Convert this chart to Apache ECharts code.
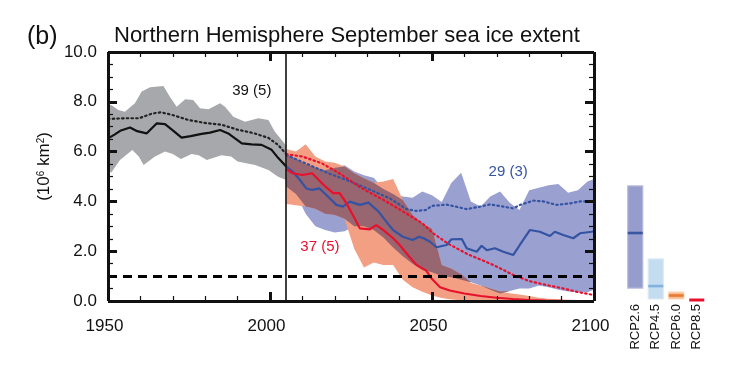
<!DOCTYPE html>
<html><head><meta charset="utf-8">
<script src="https://cdn.jsdelivr.net/npm/echarts@6/dist/echarts.min.js"></script>
<style>html,body{margin:0;padding:0;background:#fff}#c{width:740px;height:376px}</style>
</head><body><div id="c"></div>
<script>
// ---------- data ----------
const panelLabel = '(b)';
const titleText = 'Northern Hemisphere September sea ice extent';
const xRange = [1950, 2100];
const yRange = [0, 10];
const xMajorTicks = [1950, 2000, 2050, 2100];
const xMinorTicks = [1960, 1970, 1980, 1990, 2010, 2020, 2030, 2040, 2060, 2070, 2080, 2090];
const yMajorTicks = [0, 2, 4, 6, 8, 10];
const yMinorTicks = [0.5, 1, 1.5, 2.5, 3, 3.5, 4.5, 5, 5.5, 6.5, 7, 7.5, 8.5, 9, 9.5];
const historicalEnd = 2005;
const thresholdValue = 1.0;

const histMean = [[1950,6.53],[1952,6.68],[1954,6.85],[1956.8,6.97],[1959,6.82],[1961.9,6.73],[1965,7.13],[1967.6,7.1],[1970,6.85],[1972.7,6.56],[1975.5,6.62],[1978.9,6.71],[1981.5,6.76],[1984.6,6.87],[1987.1,6.73],[1991.3,6.33],[1994.3,6.29],[1997.4,6.27],[2000.5,6.07],[2002.5,5.75],[2005,5.4]];
const histAll = [[1950,7.31],[1955.5,7.34],[1959.6,7.34],[1963.7,7.53],[1966.3,7.58],[1969.9,7.47],[1974.8,7.27],[1980,7.15],[1985,7.08],[1990,6.88],[1995,6.74],[1999.5,6.55],[2002.5,6.27],[2005,5.9]];
const histMax = [[1950,7.85],[1951,7.87],[1953.2,7.67],[1955.2,7.6],[1958.3,7.94],[1960.4,8.41],[1963,8.58],[1967.1,8.63],[1969.1,8.2],[1971.2,7.8],[1973.8,8.1],[1976.3,8.07],[1978.4,7.74],[1981,7.7],[1984.6,7.94],[1986.1,7.8],[1988.7,7.4],[1992.3,7.2],[1996.4,7.34],[1999.5,7.27],[2001.5,6.8],[2005,6.25]];
const histMin = [[1950,5.3],[1951,5.15],[1953.7,5.66],[1957.5,6.06],[1959.5,5.8],[1961,5.46],[1964.5,5.8],[1967.6,6.0],[1970,5.9],[1972.5,5.7],[1975.8,5.9],[1978,5.85],[1980.5,5.66],[1985,5.85],[1988,5.8],[1990,5.6],[1995.4,5.46],[1999.5,5.26],[2002.5,4.99],[2005,4.86]];

const futureYears = [2005,2008,2011,2014,2017,2020,2023,2026,2029,2032,2035,2038,2041,2044,2047,2050,2053,2056,2059,2062,2065,2068,2071,2074,2077,2080,2083,2086,2089,2092,2095,2098,2100];
const rcp26Max = [5.9,5.7,5.5,5.35,5.25,5.35,5.45,5.2,5.05,4.95,4.5,4.3,4.2,4.15,4.4,4.25,3.98,4.75,5.15,4.0,3.8,4.2,4.4,3.95,3.65,4.45,4.55,4.65,4.7,4.35,4.45,4.8,4.9];
const rcp26Min = [4.6,4.3,3.5,3.0,2.85,2.75,2.8,3.0,3.0,2.85,2.55,2.15,1.8,1.5,1.25,1.15,1.0,0.95,0.85,0.75,0.62,0.45,0.3,0.4,0.5,0.5,0.62,0.55,0.45,0.38,0.35,0.35,0.45];
const rcp85Max = [6.1,6.0,6.3,5.8,5.6,5.55,5.4,5.13,4.93,4.75,4.8,4.9,4.06,3.45,3.12,2.9,1.45,1.3,1.07,0.72,0.62,0.5,0.38,0.31,0.26,0.2,0.13,0.09,0.07,0.05,0.04,0.03,0.03];
const rcp85Min = [3.9,3.85,3.8,3.7,3.5,3.45,3.3,2.1,1.35,1.55,1.45,1.45,0.85,0.55,0.37,0.22,0.12,0.06,0.03,0,0,0,0,0,0,0,0,0,0,0,0,0,0];

const rcp26Mean = [[2005,5.4],[2007,5.2],[2009,4.9],[2011.2,4.52],[2013,4.46],[2015.3,4.52],[2017.4,4.26],[2020.5,3.86],[2022.5,3.79],[2024.6,3.99],[2027.7,3.86],[2030.4,3.95],[2033.5,3.59],[2036.9,3.02],[2038,2.85],[2041,2.58],[2044,2.45],[2046,2.58],[2047.4,2.52],[2049.4,2.38],[2051.4,2.16],[2054.5,2.25],[2056,2.48],[2059.2,2.49],[2060.7,2.12],[2063.8,1.98],[2065.3,2.22],[2066.9,2.04],[2069.4,2.12],[2072,1.98],[2075.1,1.85],[2077.1,2.25],[2080.2,2.85],[2083.3,2.78],[2086.4,2.61],[2087.9,2.78],[2090.5,2.65],[2093.6,2.52],[2095.7,2.72],[2099.3,2.78],[2100,2.8]];
const rcp26All = [[2005,5.86],[2011,5.53],[2018,5.13],[2025,4.79],[2031,4.46],[2037,4.12],[2042,3.7],[2045,3.62],[2048,3.65],[2050,3.82],[2054.5,3.87],[2057,3.8],[2060.7,3.69],[2064.8,3.79],[2067.9,3.88],[2072,3.79],[2075.1,3.72],[2077.2,3.86],[2081.3,4.03],[2084.4,4.0],[2088.5,3.86],[2092.6,3.92],[2095.7,4.0],[2100,4.0]];
const rcp85Mean = [[2005,5.3],[2007,5.13],[2010,5.06],[2013,5.13],[2016.4,4.68],[2019.5,4.33],[2021.5,4.33],[2023.6,3.92],[2026.1,3.32],[2027.7,2.92],[2030.8,2.88],[2032.8,3.05],[2035,2.85],[2038,2.52],[2040,2.25],[2043,1.78],[2045.2,1.45],[2048.2,1.22],[2050,0.88],[2052.5,0.55],[2055.5,0.42],[2060,0.3],[2065,0.2],[2070,0.13],[2075,0.08],[2080,0.04],[2085,0.02],[2090,0.01],[2100,0.0]];
const rcp85All = [[2005,5.9],[2010,5.8],[2016,5.53],[2022,5.08],[2028,4.55],[2035,4.06],[2041,3.6],[2047,3.12],[2050,2.75],[2055,2.3],[2061,1.88],[2068,1.5],[2070,1.38],[2075,1.05],[2080,0.8],[2085,0.65],[2090,0.52],[2095,0.36],[2100,0.24]];

const sideNames = ['RCP2.6','RCP4.5','RCP6.0','RCP8.5'];
const sideMin = [0.52, 0.08, 0.08, 0.04];
const sideMax = [4.62, 1.69, 0.36, 0.04];
const sideMean = [2.73, 0.6, 0.22, 0.04];

const annotationTexts = ['39 (5)', '29 (3)', '37 (5)'];

// ---------- styles / layout ----------
const FONT = 'Liberation Sans, Arial, Helvetica, sans-serif';
const C_GRAY = '#a6a8ab', C_BLUE_BAND = '#9aa0cf', C_RED_BAND = '#f29f84', C_OVERLAP = '#976670';
const C_BLUE = '#3553a3', C_RED = '#e8112d', C_INK = '#111';
const sideFill = ['#969ccc', '#c4dcf0', '#f7bb90', C_RED];
const sideStroke = ['#b5badf', '#dbe9f6', '#fbd5b8', C_RED];
const sideMeanColor = ['#3b55a5', '#7fb3de', '#ea7a34', C_RED];
const annotationPlace = [[1994.4, 8.45, C_INK], [2073.5, 5.19, C_BLUE], [2015.4, 2.18, C_RED]];
const W = 740, H = 376;
const G = { left: 108, right: 146, top: 52, bottom: 75 };
const plotW = W - G.left - G.right, plotH = H - G.top - G.bottom;
const pxX = (xRange[1] - xRange[0]) / plotW, pxY = (yRange[1] - yRange[0]) / plotH;

function pairs(xs, ys) { return xs.map((x, i) => [x, ys[i]]); }
const ovLower = futureYears.map((y, i) => Math.max(rcp26Min[i], rcp85Min[i]));
const ovUpper = futureYears.map((y, i) => Math.max(Math.min(rcp26Max[i], rcp85Max[i]), ovLower[i]));

function bandSeries(upper, lower, color) {
  return {
    type: 'custom', xAxisIndex: 0, yAxisIndex: 0, silent: true, z: 1,
    data: [[upper[0][0], upper[0][1]]],
    renderItem: function (params, api) {
      const pts = upper.map(p => api.coord(p)).concat(lower.slice().reverse().map(p => api.coord(p)));
      return { type: 'polygon', shape: { points: pts }, style: { fill: color } };
    }
  };
}
function lineSeries(data, color, width, dash) {
  const ls = { color: color, width: width };
  if (dash) { ls.type = dash; ls.cap = 'round'; }
  return { type: 'line', xAxisIndex: 0, yAxisIndex: 0, data: data, showSymbol: false, symbol: 'none', z: 3, silent: true, lineStyle: ls };
}
function mkAxis(kind, position, extra) {
  const isX = kind === 'x';
  const r = isX ? xRange : yRange;
  return Object.assign({
    type: 'value', min: r[0], max: r[1], interval: isX ? 50 : 2, gridIndex: 0, position: position,
    axisLine: { show: false, onZero: false }, axisTick: { show: false }, minorTick: { show: false },
    splitLine: { show: false }, minorSplitLine: { show: false }
  }, extra);
}

// frame + inward ticks as marker segments on the cartesian scale
function seg(a, b, w) { return [{ coord: a, lineStyle: { color: C_INK, width: w, type: 'solid' } }, { coord: b }]; }
const frameSegs = [];
const majX = 9 * pxX, minX = 5 * pxX, majY = 9 * pxY, minY = 5 * pxY;
xMajorTicks.forEach(x => { frameSegs.push(seg([x, yRange[0]], [x, yRange[0] + majY], 3)); frameSegs.push(seg([x, yRange[1]], [x, yRange[1] - majY], 3)); });
xMinorTicks.forEach(x => { frameSegs.push(seg([x, yRange[0]], [x, yRange[0] + minY], 1.2)); frameSegs.push(seg([x, yRange[1]], [x, yRange[1] - minY], 1.2)); });
yMajorTicks.forEach(y => { frameSegs.push(seg([xRange[0], y], [xRange[0] + majX, y], 3)); frameSegs.push(seg([xRange[1], y], [xRange[1] - majX, y], 3)); });
yMinorTicks.forEach(y => { frameSegs.push(seg([xRange[0], y], [xRange[0] + minX, y], 1.2)); frameSegs.push(seg([xRange[1], y], [xRange[1] - minX, y], 1.2)); });
frameSegs.push(seg([xRange[0], yRange[0]], [xRange[1], yRange[0]], 3));
frameSegs.push(seg([xRange[0], yRange[1]], [xRange[1], yRange[1]], 3));
frameSegs.push(seg([xRange[0], yRange[0]], [xRange[0], yRange[1]], 3));
frameSegs.push(seg([xRange[1], yRange[0]], [xRange[1], yRange[1]], 3));

const option = {
  animation: false,
  backgroundColor: '#fff',
  title: [
    { text: panelLabel, left: 27, top: 25, padding: 0, textStyle: { fontSize: 25, fontWeight: 'normal', color: C_INK, fontFamily: FONT } },
    { text: titleText, left: 114, top: 25, padding: 0, textStyle: { fontSize: 22, fontWeight: 'normal', color: C_INK, fontFamily: FONT } }
  ],
  grid: [
    { left: G.left, right: G.right, top: G.top, bottom: G.bottom },
    { left: 625, width: 82, top: G.top, bottom: G.bottom }
  ],
  xAxis: [
    mkAxis('x', 'bottom', { axisLabel: { show: true, fontSize: 17, color: C_INK, fontFamily: FONT, margin: 17, padding: [0, 7, 0, 0],
        formatter: v => (xMajorTicks.indexOf(v) >= 0 ? String(v) : '') } }),
    mkAxis('x', 'top', { axisLabel: { show: false } }),
    { type: 'category', gridIndex: 1, data: sideNames, axisLine: { show: false }, axisTick: { show: false }, splitLine: { show: false },
      axisLabel: { rotate: 90, fontSize: 13, color: C_INK, fontFamily: FONT, margin: 3, interval: 0 } }
  ],
  yAxis: [
    mkAxis('y', 'left', {
      name: '(10{s|6} km{s|2})', nameLocation: 'middle', nameGap: 41, nameRotate: 90,
      nameTextStyle: { fontSize: 17, color: C_INK, fontFamily: FONT, padding: [0, 0, 0, 20],
        rich: { s: { fontSize: 10, verticalAlign: 'top', color: C_INK, fontFamily: FONT } } },
      axisLabel: { show: true, fontSize: 17, color: C_INK, fontFamily: FONT, margin: 11,
        formatter: v => (yMajorTicks.indexOf(v) >= 0 ? v.toFixed(1) : '') } }),
    mkAxis('y', 'right', { axisLabel: { show: false } }),
    { type: 'value', gridIndex: 1, min: yRange[0], max: yRange[1], show: false }
  ],
  series: [
    bandSeries(histMax, histMin, C_GRAY),
    bandSeries(pairs(futureYears, rcp26Max), pairs(futureYears, rcp26Min), C_BLUE_BAND),
    bandSeries(pairs(futureYears, rcp85Max), pairs(futureYears, rcp85Min), C_RED_BAND),
    bandSeries(pairs(futureYears, ovUpper), pairs(futureYears, ovLower), C_OVERLAP),
    { type: 'line', xAxisIndex: 0, yAxisIndex: 0, data: [], silent: true, z: 2,
      markLine: { silent: true, symbol: ['none', 'none'], label: { show: false }, animation: false,
        data: [
          { yAxis: thresholdValue, lineStyle: { color: '#000', width: 3, type: [9, 6] } },
          { xAxis: historicalEnd, lineStyle: { color: C_INK, width: 1.6, type: 'solid' } }
        ] } },
    lineSeries(histAll, '#222', 2.2, [1.5, 3.2]),
    lineSeries(rcp26All, C_BLUE, 2.2, [1.5, 3.2]),
    lineSeries(rcp85All, C_RED, 2.2, [1.5, 3.2]),
    lineSeries(histMean, C_INK, 2.2),
    lineSeries(rcp26Mean, C_BLUE, 2.2),
    lineSeries(rcp85Mean, C_RED, 2.2),
    { type: 'custom', xAxisIndex: 0, yAxisIndex: 0, silent: true, z: 7, clip: false,
      data: annotationTexts.map((t, i) => [annotationPlace[i][0], annotationPlace[i][1]]),
      renderItem: function (params, api) {
        const i = params.dataIndex;
        const p = api.coord([api.value(0), api.value(1)]);
        return { type: 'text', x: p[0], y: p[1],
          style: { text: annotationTexts[i], fill: annotationPlace[i][2], font: '15px ' + FONT, align: 'center', verticalAlign: 'middle' } };
      } },
    { type: 'line', xAxisIndex: 0, yAxisIndex: 0, data: [], silent: true, z: 8, clip: false,
      markLine: { silent: true, symbol: ['none', 'none'], label: { show: false }, animation: false, data: frameSegs } },
    { type: 'custom', xAxisIndex: 2, yAxisIndex: 2, silent: true,
      data: sideNames.map((n, i) => [i, sideMin[i], sideMax[i], sideMean[i]]),
      renderItem: function (params, api) {
        const i = params.dataIndex;
        const lo = api.coord([api.value(0), api.value(1)]);
        const hi = api.coord([api.value(0), api.value(2)]);
        const m = api.coord([api.value(0), api.value(3)]);
        const w = 15, mh = i === 3 ? 3 : 2.6;
        const children = [];
        if (hi[1] < lo[1] - 0.5) {
          children.push({ type: 'rect', shape: { x: lo[0] - w / 2, y: hi[1], width: w, height: lo[1] - hi[1] },
            style: { fill: sideFill[i], stroke: sideStroke[i], lineWidth: 1.2 } });
        }
        children.push({ type: 'rect', shape: { x: m[0] - w / 2, y: m[1] - mh / 2, width: w, height: mh },
          style: { fill: sideMeanColor[i] } });
        return { type: 'group', children: children };
      } }
  ]
};

const chart = echarts.init(document.getElementById('c'), null, { renderer: 'canvas' });
chart.setOption(option);
</script>
</body></html>
